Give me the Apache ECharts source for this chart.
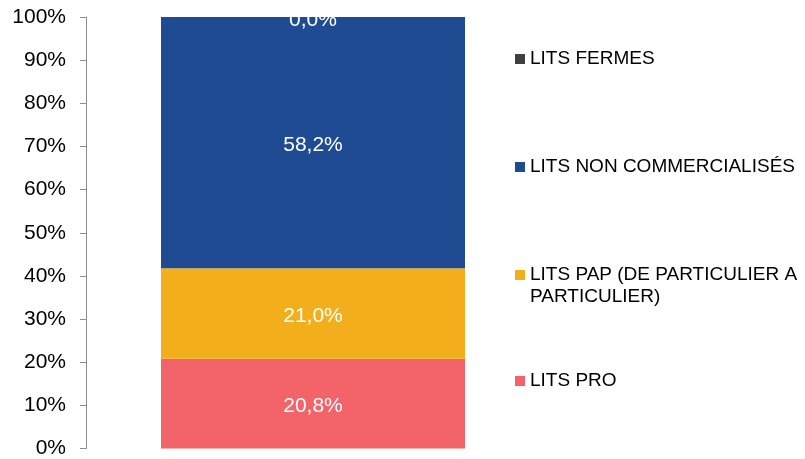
<!DOCTYPE html>
<html>
<head>
<meta charset="utf-8">
<script src="https://cdn.jsdelivr.net/npm/echarts@6/dist/echarts.min.js"></script>
<style>
  html, body { margin: 0; padding: 0; background: #fff; }
  #chart { width: 805px; height: 459px; }
</style>
</head>
<body>
<div id="chart"></div>
<script>
// data
const categories = ["Total"];
const seriesNames = ["LITS PRO", "LITS PAP (DE PARTICULIER A PARTICULIER)", "LITS NON COMMERCIALISÉS", "LITS FERMES"];
const litsPro = [20.8];
const litsPap = [21.0];
const litsNonCom = [58.2];
const litsFermes = [0.0];
const yTicks = [0, 10, 20, 30, 40, 50, 60, 70, 80, 90, 100];

const colors = ["#f2636a", "#f2af1b", "#1f4b93", "#404040"];
const values = [litsPro, litsPap, litsNonCom, litsFermes];

const chart = echarts.init(document.getElementById("chart"));

const font = "Liberation Sans, Arial, sans-serif";

// legend entries stacked top-down, one legend per item
const legendTops = [48, 156, 242, 370]; // fermes, non com, pap, pro
const legendOrder = [3, 2, 1, 0];

const option = {
  animation: false,
  grid: { left: 86, top: 17, width: 454, bottom: 9 },
  xAxis: {
    type: "category",
    data: categories,
    show: false
  },
  yAxis: {
    type: "value",
    min: yTicks[0],
    max: yTicks[yTicks.length - 1],
    interval: 10,
    axisLine: { show: true, lineStyle: { color: "#8c8c8c", width: 1 } },
    axisTick: { show: true, length: 6, lineStyle: { color: "#8c8c8c" } },
    splitLine: { show: false },
    axisLabel: {
      margin: 20,
      color: "#000",
      fontSize: 21,
      fontFamily: font,
      formatter: "{value}%"
    }
  },
  legend: legendOrder.map((idx, i) => ({
    data: [seriesNames[idx]],
    left: 515,
    top: legendTops[i],
    padding: 0,
    icon: "rect",
    itemWidth: 10,
    itemHeight: 10,
    selectedMode: false,
    textStyle: {
      color: "#000",
      fontSize: 19,
      fontFamily: font,
      lineHeight: 22
    },
    // blank first line keeps the icon next to the first text line
    formatter: name => name === seriesNames[1]
      ? " \nLITS PAP (DE PARTICULIER A\nPARTICULIER)"
      : name
  })),
  series: seriesNames.map((name, i) => ({
    name: name,
    type: "bar",
    stack: "total",
    barWidth: 304,
    data: values[i],
    itemStyle: { color: colors[i] },
    label: {
      show: true,
      position: "inside",
      offset: [0, 3],
      color: "#fff",
      fontSize: 21,
      fontFamily: font,
      formatter: p => p.value.toFixed(1).replace(".", ",") + "%"
    }
  }))
};

chart.setOption(option);
</script>
</body>
</html>
